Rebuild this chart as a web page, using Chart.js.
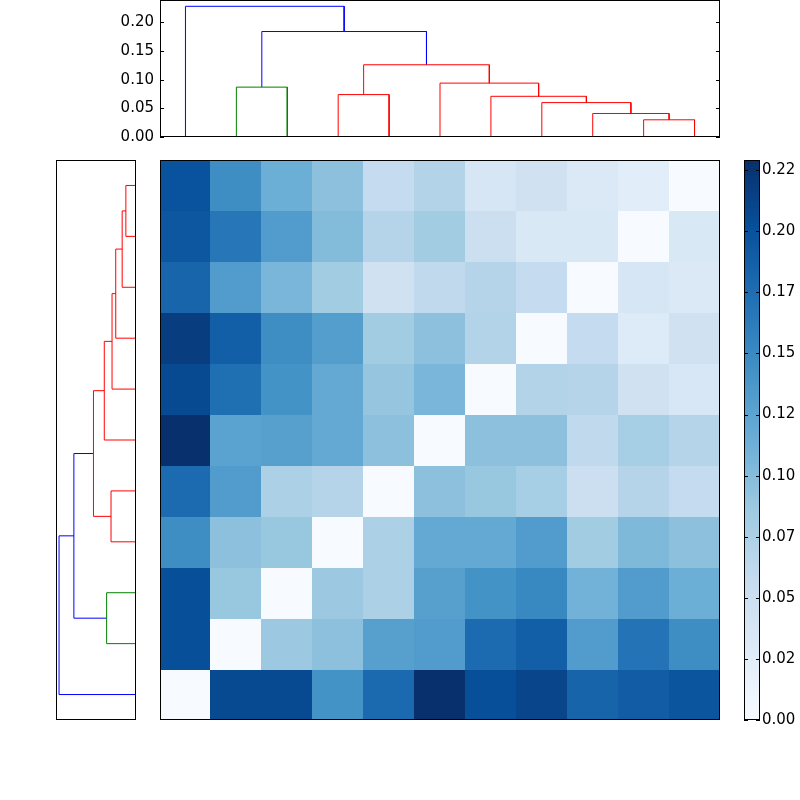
<!DOCTYPE html>
<html><head><meta charset="utf-8">
<script src="https://cdn.jsdelivr.net/npm/chart.js@4"></script>
<style>body{margin:0;background:#fff;width:800px;height:800px;position:relative;overflow:hidden}canvas{position:absolute}</style>
</head><body>
<canvas id="top" style="left:100px;top:-20px;width:630px;height:172px" width="630" height="172"></canvas>
<canvas id="left" style="left:56px;top:160px;width:80px;height:560px" width="80" height="560"></canvas>
<canvas id="heat" style="left:160px;top:160px;width:560px;height:560px" width="560" height="560"></canvas>
<canvas id="cbar" style="left:744px;top:140px;width:56px;height:600px" width="56" height="600"></canvas>
<script>
// ---- data ----
const leaves = [0,1,2,3,4,5,6,7,8,9,10];
const linkLeft   = [1, 3, 9, 8, 7, 6, 5, 3.5, 1.5, 0];
const linkRight  = [2, 4, 10, 9.5, 8.75, 7.875, 6.9375, 5.96875, 4.734375, 3.1171875];
const linkHeight = [0.087, 0.074, 0.030, 0.041, 0.060, 0.071, 0.094, 0.126, 0.184, 0.228];
const linkLeftChildH  = [0, 0, 0, 0, 0, 0, 0, 0.074, 0.087, 0];
const linkRightChildH = [0, 0, 0, 0.030, 0.041, 0.060, 0.071, 0.094, 0.126, 0.184];
const linkColor = ['#008000','#ff0000','#ff0000','#ff0000','#ff0000','#ff0000','#ff0000','#ff0000','#0000ff','#0000ff'];
// matrix rows from bottom (row 0) to top (row 10)
const matrix = [
 [0, .204, .204, .140, .177, .226, .200, .208, .181, .188, .195],
 [.200, 0, .086, .095, .127, .131, .175, .186, .131, .168, .145],
 [.200, .088, 0, .086, .075, .127, .140, .150, .109, .131, .113],
 [.145, .095, .088, 0, .075, .118, .118, .131, .082, .102, .095],
 [.175, .131, .075, .068, 0, .095, .088, .079, .050, .068, .057],
 [.226, .125, .127, .118, .095, 0, .095, .095, .060, .079, .068],
 [.204, .172, .140, .118, .090, .105, 0, .070, .068, .045, .036],
 [.215, .186, .145, .129, .082, .095, .070, 0, .057, .030, .045],
 [.180, .131, .105, .082, .045, .060, .068, .057, 0, .038, .032],
 [.193, .165, .131, .100, .068, .082, .050, .034, .034, 0, .034],
 [.197, .145, .113, .095, .057, .070, .038, .045, .032, .025, 0]
];
const cbarTicks = [0, .0247, .0494, .0741, .0988, .1235, .1482, .1729, .1976, .2223];
const cMax = 0.2264;
const topTicks = [0, 0.05, 0.10, 0.15, 0.20];

// ---- helpers ----
const blues = [[247,251,255],[222,235,247],[198,219,239],[158,202,225],[107,174,214],[66,146,198],[33,113,181],[8,81,156],[8,48,107]];
function cmap(t){t=Math.max(0,Math.min(1,t));const p=t*8,i=Math.min(7,Math.floor(p)),f=p-i;const a=blues[i],b=blues[i+1];
 return `rgb(${Math.round(a[0]+(b[0]-a[0])*f)},${Math.round(a[1]+(b[1]-a[1])*f)},${Math.round(a[2]+(b[2]-a[2])*f)})`;}
const FONT = {family:'DejaVu Sans', size:15};
Chart.defaults.font = FONT; Chart.defaults.color = '#000';
function frame(opts={}){return {id:'frame', afterDraw(c){const a=c.chartArea,ctx=c.ctx;ctx.save();ctx.strokeStyle='#000';ctx.lineWidth=1;
 ctx.strokeRect(Math.round(a.left)+0.5,Math.round(a.top)+0.5,Math.round(a.right-a.left)-1,Math.round(a.bottom-a.top)-1);
 if(opts.yticks){const s=c.scales.y;ctx.beginPath();s.ticks.forEach(t=>{const y=Math.round(s.getPixelForValue(t.value))+0.5;
  ctx.moveTo(a.left,y);ctx.lineTo(a.left+opts.len,y); ctx.moveTo(a.right,y);ctx.lineTo(a.right-opts.len,y);});ctx.stroke();}
 ctx.restore();}};}
function dendroSets(horizontal){
 return linkLeft.map((l,i)=>{const r=linkRight[i],h=linkHeight[i];
  let pts=[[l,linkLeftChildH[i]],[l,h],[r,h],[r,linkRightChildH[i]]];
  if(horizontal) pts=pts.map(p=>({x:p[1],y:p[0]})); else pts=pts.map(p=>({x:p[0],y:p[1]}));
  return {data:pts,showLine:true,borderColor:linkColor[i],borderWidth:1,pointRadius:0,fill:false,tension:0};});
}
const base = {responsive:false,animation:false,plugins:{legend:{display:false},tooltip:{enabled:false}}};

// top dendrogram
new Chart(document.getElementById('top'),{type:'scatter',data:{datasets:dendroSets(false)},
 options:{...base,layout:{padding:{top:20,right:10,bottom:12,left:0}},
  scales:{x:{type:'linear',min:-0.5,max:10.5,display:false},
   y:{type:'linear',min:0,max:0.239,afterFit(s){s.width=60;},afterBuildTicks(s){s.ticks=topTicks.map(v=>({value:v}));},
    ticks:{callback:v=>v.toFixed(2),padding:6},grid:{display:false,drawTicks:false},border:{display:false}}}},
 plugins:[frame({yticks:true,len:4})]});

// left dendrogram
new Chart(document.getElementById('left'),{type:'scatter',data:{datasets:dendroSets(true)},
 options:{...base,layout:{padding:0},
  scales:{x:{type:'linear',min:0,max:0.237,reverse:true,display:false},
   y:{type:'linear',min:-0.5,max:10.5,display:false}}},
 plugins:[frame()]});

// heatmap
new Chart(document.getElementById('heat'),{type:'scatter',data:{datasets:[{data:[]}]},
 options:{...base,layout:{padding:0},
  scales:{x:{type:'linear',min:-0.5,max:10.5,display:false},y:{type:'linear',min:-0.5,max:10.5,display:false}}},
 plugins:[{id:'cells',beforeDatasetsDraw(c){const ctx=c.ctx,x=c.scales.x,y=c.scales.y;
  matrix.forEach((row,r)=>row.forEach((v,ci)=>{const x0=x.getPixelForValue(ci-0.5),x1=x.getPixelForValue(ci+0.5);
   const y0=y.getPixelForValue(r+0.5),y1=y.getPixelForValue(r-0.5);ctx.fillStyle=cmap(v/cMax);
   ctx.fillRect(Math.floor(x0),Math.floor(y0),Math.ceil(x1)-Math.floor(x0),Math.ceil(y1)-Math.floor(y0));}));}},frame()]});

// colorbar
new Chart(document.getElementById('cbar'),{type:'scatter',data:{datasets:[{data:[]}]},
 options:{...base,layout:{padding:{top:20,bottom:20,left:0,right:0}},
  scales:{x:{type:'linear',min:0,max:1,display:false},
   y:{type:'linear',position:'right',min:0,max:cMax,afterFit(s){s.width=40;},afterBuildTicks(s){s.ticks=cbarTicks.map(v=>({value:v}));},
    ticks:{callback:v=>v.toFixed(2),padding:2},grid:{display:false,drawTicks:false},border:{display:false}}}},
 plugins:[{id:'grad',beforeDatasetsDraw(c){const a=c.chartArea,ctx=c.ctx,s=c.scales.y;
   for(let py=Math.floor(a.top);py<Math.ceil(a.bottom);py++){ctx.fillStyle=cmap(s.getValueForPixel(py+0.5)/cMax);ctx.fillRect(a.left,py,a.right-a.left,1);}}},
  frame({yticks:true,len:4})]});
</script>
</body></html>
